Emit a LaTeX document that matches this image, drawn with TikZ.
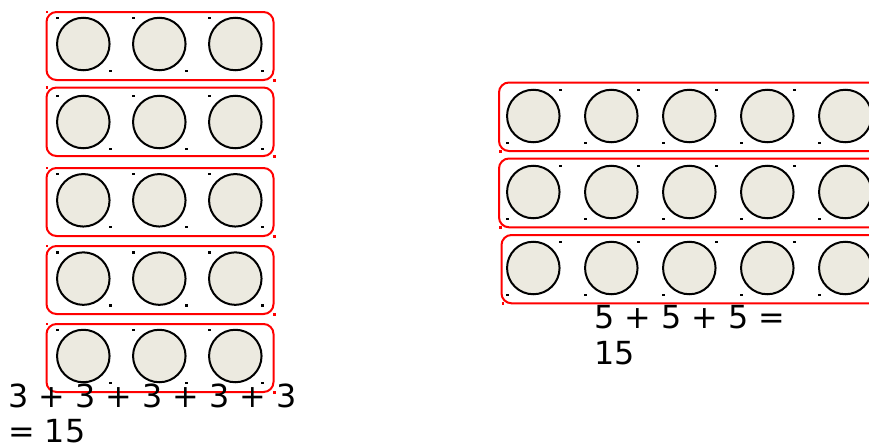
\documentclass[tikz,border=0pt]{standalone}
\usepackage{fontspec}
\setmainfont{DejaVu Sans}
\definecolor{counterfill}{RGB}{236,234,224}
\tikzset{
  tray/.style={draw=red, line width=2pt, rounded corners=10pt},
  counter/.style={circle, draw=black, fill=counterfill, line width=2pt,
    minimum size=52.5pt, inner sep=0pt},
  sumtext/.style={anchor=base west, inner sep=0pt, align=left,
    font=\fontsize{31.8}{35.5}\selectfont}
}
\begin{document}
\begin{tikzpicture}[x=1pt, y=-1pt]
    \useasboundingbox (0,0) rectangle (869,442);
    \clip (0,0) rectangle (869,442);
    % five rows of three
    \foreach \r/\cy/\top/\bot in {1/44/12/80, 2/122/87.5/156, 3/200.3/168/236,
                                  4/278.6/246/314, 5/356/324/392} {
      \draw[tray] (46.5,\top) rectangle (273.5,\bot);
      \fill[red] (45.5,\top-1.5) rectangle +(2.5,2.5);
      \fill[red] (273,\bot-1) rectangle +(2.5,2.5);
      \foreach \c in {0,1,2} {
        \node[counter] (left-\r-\c) at (83.3+76*\c,\cy) {};
        \fill (56+76*\c,\cy-27.5) rectangle +(2.5,2.5);
        \fill (109+76*\c,\cy+25.5) rectangle +(2.5,2.5);
      }
    }
    % three rows of five
    \foreach \r/\cy/\lft/\top/\bot in {1/116/499/82.5/151, 2/192/499/158.5/227.3,
                                       3/268/501.5/235/303.3} {
      \draw[tray] (\lft,\top) rectangle (890,\bot);
      \fill[red] (\lft,\bot-1) rectangle +(2.5,2.5);
      \foreach \c in {0,...,4} {
        \node[counter] (right-\r-\c) at (533.3+78*\c,\cy) {};
        \fill (559+78*\c,\cy-27.5) rectangle +(2.5,2.5);
        \fill (506+78*\c,\cy+25.5) rectangle +(2.5,2.5);
      }
    }
    \node[sumtext] (sum-left) at (8,442.5) {3 + 3 + 3 + 3 + 3\\= 15};
    \node[sumtext] (sum-right) at (594,364) {5 + 5 + 5 =\\15};
  \end{tikzpicture}
\end{document}
